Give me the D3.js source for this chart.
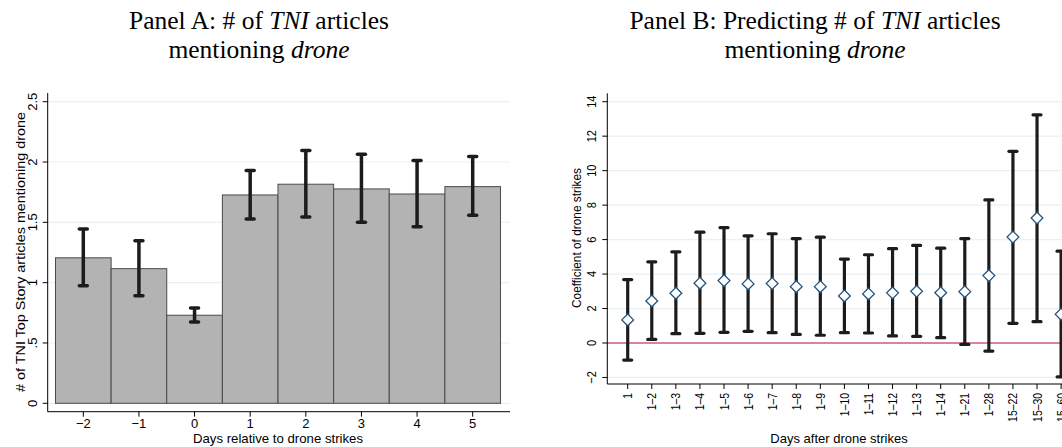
<!DOCTYPE html>
<html><head><meta charset="utf-8">
<script src="https://cdn.jsdelivr.net/npm/d3@7"></script>
<style>body{margin:0;background:#fff}svg{display:block}</style>
</head><body>
<svg id="c" width="1062" height="447"></svg>
<script>
// ---- Panel A data ----
const daysA = [-2, -1, 0, 1, 2, 3, 4, 5];
const meanA = [1.206, 1.116, 0.730, 1.727, 1.816, 1.777, 1.735, 1.796];
const loA   = [0.975, 0.892, 0.674, 1.528, 1.545, 1.500, 1.464, 1.559];
const hiA   = [1.445, 1.348, 0.790, 1.929, 2.095, 2.065, 2.012, 2.045];
const yTicksA = [0, 0.5, 1, 1.5, 2, 2.5];
const yTickLabelsA = ["0", ".5", "1", "1.5", "2", "2.5"];
const xTickLabelsA = ["\u22122", "\u22121", "0", "1", "2", "3", "4", "5"];

// ---- Panel B data ----
const catsB = ["1","1\u20132","1\u20133","1\u20134","1\u20135","1\u20136","1\u20137","1\u20138","1\u20139","1\u201310",
               "1\u201311","1\u201312","1\u201313","1\u201314","1\u201321","1\u201328","15\u201322","15\u201330","15\u201360"];
const coefB = [1.34, 2.44, 2.89, 3.47, 3.62, 3.43, 3.45, 3.27, 3.27, 2.73, 2.85, 2.91, 3.00, 2.92, 2.98, 3.91, 6.15, 7.25, 1.67];
const loB   = [-0.99, 0.21, 0.54, 0.56, 0.62, 0.68, 0.60, 0.50, 0.45, 0.60, 0.58, 0.41, 0.39, 0.31, -0.08, -0.47, 1.14, 1.24, -1.96];
const hiB   = [3.68, 4.71, 5.29, 6.43, 6.69, 6.22, 6.34, 6.06, 6.14, 4.87, 5.12, 5.47, 5.66, 5.50, 6.06, 8.30, 11.12, 13.24, 5.33];
const yTicksB = [-2, 0, 2, 4, 6, 8, 10, 12, 14];
const yTickLabelsB = ["\u22122", "0", "2", "4", "6", "8", "10", "12", "14"];

const svg = d3.select("#c");
const SANS = "'Liberation Sans', Arial, sans-serif";
const SERIF = "'Liberation Serif', 'Times New Roman', serif";
const GRID = "#e9f1f3";

function rotText(g, x, y, txt, size, k, anchor) {
  return g.append("text")
    .attr("transform", `translate(${x},${y}) rotate(-90) scale(${k},1)`)
    .attr("text-anchor", anchor || "middle")
    .attr("font-family", SANS).attr("font-size", size)
    .attr("fill", "#000").text(txt);
}

// ---- Titles ----
function title(cx, parts1, parts2) {
  [[parts1, 29], [parts2, 58]].forEach(([parts, y]) => {
    const t = svg.append("text").attr("x", cx).attr("y", y).attr("text-anchor", "middle")
      .attr("font-family", SERIF).attr("font-size", 25.5).attr("fill", "#000");
    parts.forEach(p => t.append("tspan").attr("font-style", p[1] ? "italic" : "normal").text(p[0]));
  });
}
title(259, [["Panel A: # of ", 0], ["TNI", 1], [" articles", 0]], [["mentioning ", 0], ["drone", 1]]);
title(815, [["Panel B: Predicting # of ", 0], ["TNI", 1], [" articles", 0]], [["mentioning ", 0], ["drone", 1]]);

// ---- Panel A ----
const xA = d3.scaleLinear().domain([-2, 5]).range([83.3, 472.7]);
const yA = d3.scaleLinear().domain([0, 2.5]).range([403.3, 101.7]);
const axL_A = 47.7, axR_A = 510, axB_A = 411.7, axT_A = 93;
const gA = svg.append("g");
gA.selectAll(".grid").data(yTicksA).enter().append("line")
  .attr("x1", axL_A).attr("x2", axR_A).attr("y1", d => yA(d)).attr("y2", d => yA(d))
  .attr("stroke", GRID).attr("stroke-width", 1.2);
const bw = xA(1) - xA(0);
gA.selectAll(".bar").data(daysA).enter().append("rect")
  .attr("x", d => xA(d) - bw / 2).attr("width", bw)
  .attr("y", (d, i) => yA(meanA[i])).attr("height", (d, i) => yA(0) - yA(meanA[i]))
  .attr("fill", "#b3b3b3").attr("stroke", "#4a4a4a").attr("stroke-width", 1);
daysA.forEach((d, i) => {
  const x = xA(d);
  gA.append("line").attr("x1", x).attr("x2", x).attr("y1", yA(loA[i])).attr("y2", yA(hiA[i]))
    .attr("stroke", "#1c1c1c").attr("stroke-width", 3.5);
  [loA[i], hiA[i]].forEach(v => gA.append("line").attr("x1", x - 4).attr("x2", x + 4)
    .attr("y1", yA(v)).attr("y2", yA(v)).attr("stroke", "#1c1c1c").attr("stroke-width", 3.5)
    .attr("stroke-linecap", "round"));
});
// axes
gA.append("line").attr("x1", axL_A).attr("x2", axL_A).attr("y1", axT_A).attr("y2", axB_A).attr("stroke", "#000");
gA.append("line").attr("x1", axL_A).attr("x2", axR_A).attr("y1", axB_A).attr("y2", axB_A).attr("stroke", "#000");
yTicksA.forEach((t, i) => {
  gA.append("line").attr("x1", axL_A - 5).attr("x2", axL_A).attr("y1", yA(t)).attr("y2", yA(t)).attr("stroke", "#000");
  rotText(gA, 37, yA(t), yTickLabelsA[i], 13, 1.0);
});
daysA.forEach((d, i) => {
  gA.append("line").attr("x1", xA(d)).attr("x2", xA(d)).attr("y1", axB_A).attr("y2", axB_A + 5).attr("stroke", "#000");
  gA.append("text").attr("x", xA(d)).attr("y", 428).attr("text-anchor", "middle")
    .attr("font-family", SANS).attr("font-size", 13).text(xTickLabelsA[i]);
});
gA.append("text").attr("x", 278).attr("y", 443).attr("text-anchor", "middle")
  .attr("font-family", SANS).attr("font-size", 13).attr("textLength", 170).attr("lengthAdjust", "spacingAndGlyphs")
  .text("Days relative to drone strikes");
gA.append("text").attr("transform", "translate(25,252) rotate(-90)").attr("text-anchor", "middle")
  .attr("font-family", SANS).attr("font-size", 13).attr("textLength", 280).attr("lengthAdjust", "spacingAndGlyphs")
  .text("# of TNI Top Story articles mentioning drone");

// ---- Panel B ----
const xB = d3.scaleLinear().domain([0, 18]).range([627.7, 1061.1]);
const yB = d3.scaleLinear().domain([0, 14]).range([343, 101.7]);
const axL_B = 607.3, axR_B = 1070, axB_B = 384, axT_B = 93.3;
const gB = svg.append("g");
gB.selectAll(".grid").data(yTicksB).enter().append("line")
  .attr("x1", axL_B).attr("x2", axR_B).attr("y1", d => yB(d)).attr("y2", d => yB(d))
  .attr("stroke", GRID).attr("stroke-width", 1.2);
gB.append("line").attr("x1", axL_B).attr("x2", axR_B).attr("y1", yB(0)).attr("y2", yB(0))
  .attr("stroke", "#cf5f78").attr("stroke-width", 1.6);
catsB.forEach((c, i) => {
  const x = xB(i);
  gB.append("line").attr("x1", x).attr("x2", x).attr("y1", yB(loB[i])).attr("y2", yB(hiB[i]))
    .attr("stroke", "#1c1c1c").attr("stroke-width", 3.2);
  [loB[i], hiB[i]].forEach(v => gB.append("line").attr("x1", x - 4).attr("x2", x + 4)
    .attr("y1", yB(v)).attr("y2", yB(v)).attr("stroke", "#1c1c1c").attr("stroke-width", 3.2)
    .attr("stroke-linecap", "round"));
});
const diamond = d3.symbol().type(d3.symbolDiamond2).size(88);
gB.selectAll(".pt").data(coefB).enter().append("path")
  .attr("d", diamond)
  .attr("transform", (d, i) => `translate(${xB(i)},${yB(d)})`)
  .attr("fill", "#fff").attr("stroke", "#25557f").attr("stroke-width", 1.3);
gB.append("line").attr("x1", axL_B).attr("x2", axL_B).attr("y1", axT_B).attr("y2", axB_B).attr("stroke", "#000");
gB.append("line").attr("x1", axL_B).attr("x2", axR_B).attr("y1", axB_B).attr("y2", axB_B).attr("stroke", "#000");
yTicksB.forEach((t, i) => {
  gB.append("line").attr("x1", axL_B - 5).attr("x2", axL_B).attr("y1", yB(t)).attr("y2", yB(t)).attr("stroke", "#000");
  rotText(gB, 595.5, yB(t), yTickLabelsB[i], 13, 0.85);
});
catsB.forEach((c, i) => {
  gB.append("line").attr("x1", xB(i)).attr("x2", xB(i)).attr("y1", axB_B).attr("y2", axB_B + 5).attr("stroke", "#000");
  rotText(gB, xB(i) + 4.5, 393, c, 13, 0.8, "end");
});
gB.append("text").attr("x", 839).attr("y", 443).attr("text-anchor", "middle")
  .attr("font-family", SANS).attr("font-size", 13).text("Days after drone strikes");
gB.append("text").attr("transform", "translate(581,238) rotate(-90)").attr("text-anchor", "middle")
  .attr("font-family", SANS).attr("font-size", 13).attr("textLength", 140).attr("lengthAdjust", "spacingAndGlyphs")
  .text("Coefficient of drone strikes");
</script>
</body></html>
